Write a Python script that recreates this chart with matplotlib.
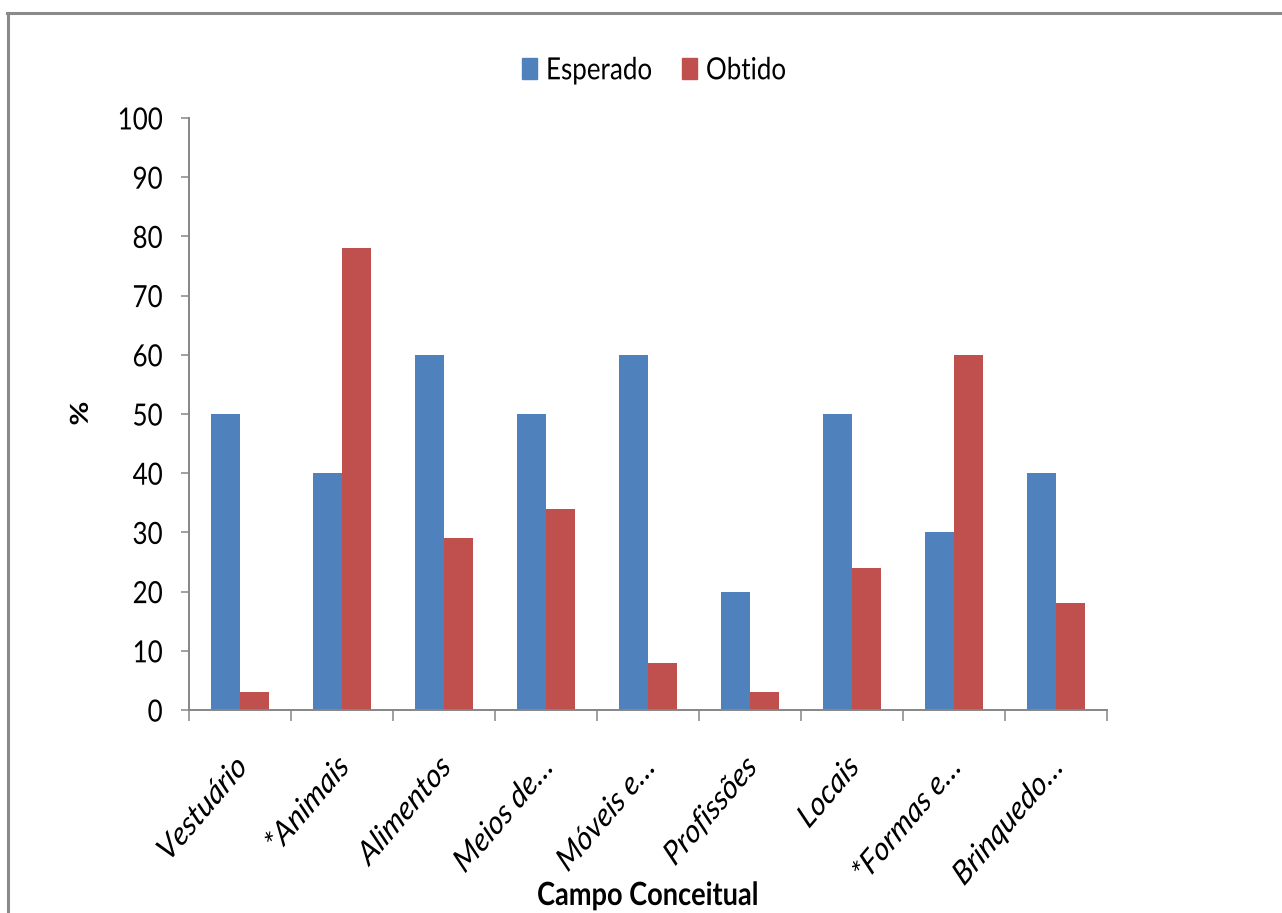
import numpy as np
import matplotlib
matplotlib.use("Agg")
import matplotlib.pyplot as plt
from matplotlib.lines import Line2D
from matplotlib.patches import Patch
from matplotlib.patheffects import AbstractPathEffect
from matplotlib.transforms import Affine2D

plt.rcParams['font.family'] = ['Lato', 'DejaVu Sans']

categorias = ["Vestuário", "*Animais", "Alimentos", "Meios de…", "Móveis e…",
              "Profissões", "Locais", "*Formas e…", "Brinquedo…"]
esperado = [50, 40, 60, 50, 60, 20, 50, 30, 40]
obtido = [3, 78, 29, 34, 8, 3, 24, 60, 18]

azul = "#4F81BD"
vermelho = "#C0504D"
cinza = "#868686"
ESTREITO = 0.85


class Estreito(AbstractPathEffect):
    """Squeezes a text horizontally around its anchor point."""

    def __init__(self, texto, sx=ESTREITO):
        super().__init__()
        self.texto = texto
        self.sx = sx

    def draw_path(self, renderer, gc, tpath, affine, rgbFace=None):
        px, _ = self.texto.get_transform().transform(self.texto.get_unitless_position())
        t = affine + Affine2D().translate(-px, 0).scale(self.sx, 1).translate(px, 0)
        renderer.draw_path(gc, tpath, t, rgbFace)


def estreitar(textos):
    for t in textos:
        t.set_path_effects([Estreito(t)])


fig = plt.figure(figsize=(12.82, 9.13), dpi=100)
ax = fig.add_axes([0.1474, 0.2223, 0.7161, 0.6485])

x = np.arange(len(categorias))
w = 0.28
ax.bar(x - w / 2, esperado, w, color=azul, label="Esperado")
ax.bar(x + w / 2, obtido, w, color=vermelho, label="Obtido")

ax.set_xlim(-0.5, len(categorias) - 0.5)
ax.set_ylim(0, 100)
ax.set_yticks(np.arange(0, 101, 10))
ax.tick_params(axis='y', labelsize=22, length=6, width=1.1, color=cinza, pad=13)

# ticks on the category boundaries, labels drawn separately
ax.set_xticks(np.arange(-0.5, len(categorias), 1.0))
ax.set_xticklabels([])
ax.tick_params(axis='x', length=8, width=1.1, color=cinza)

for s in ['top', 'right']:
    ax.spines[s].set_visible(False)
for s in ['left', 'bottom']:
    ax.spines[s].set_color(cinza)
    ax.spines[s].set_linewidth(1.4)

textos = []
trans = ax.get_xaxis_transform()
for xi, nome in zip(x, categorias):
    textos.append(ax.text(xi + 0.03, -0.088, nome, transform=trans, rotation=45,
                          rotation_mode='anchor', ha='right', va='center',
                          fontsize=24, style='italic'))

textos.append(fig.text(0.0632, 0.547, "%", rotation=90, ha='center', va='center',
                       fontsize=21, fontweight='bold'))
textos.append(fig.text(0.5055, 0.0088, "Campo Conceitual", ha='center', va='baseline',
                       fontsize=23, fontweight='bold'))

handles = [Patch(color=azul), Patch(color=vermelho)]
leg = fig.legend(handles, ["Esperado", "Obtido"], loc='center',
                 bbox_to_anchor=(0.5156, 0.923), ncol=2, frameon=False, fontsize=22,
                 handlelength=0.49, handleheight=0.65, handletextpad=0.29,
                 columnspacing=0.38)
textos += leg.get_texts()

# outer frame lines
fig.add_artist(Line2D([7 / 1282, 1], [1 - 13.5 / 913] * 2, transform=fig.transFigure,
                      color="#8a8a8a", lw=2.2))
fig.add_artist(Line2D([8 / 1282] * 2, [0, 1 - 13.5 / 913], transform=fig.transFigure,
                      color="#8a8a8a", lw=2.2))

fig.canvas.draw()
textos += ax.get_yticklabels()
estreitar(textos)

fig.savefig("out.png", dpi=100)
